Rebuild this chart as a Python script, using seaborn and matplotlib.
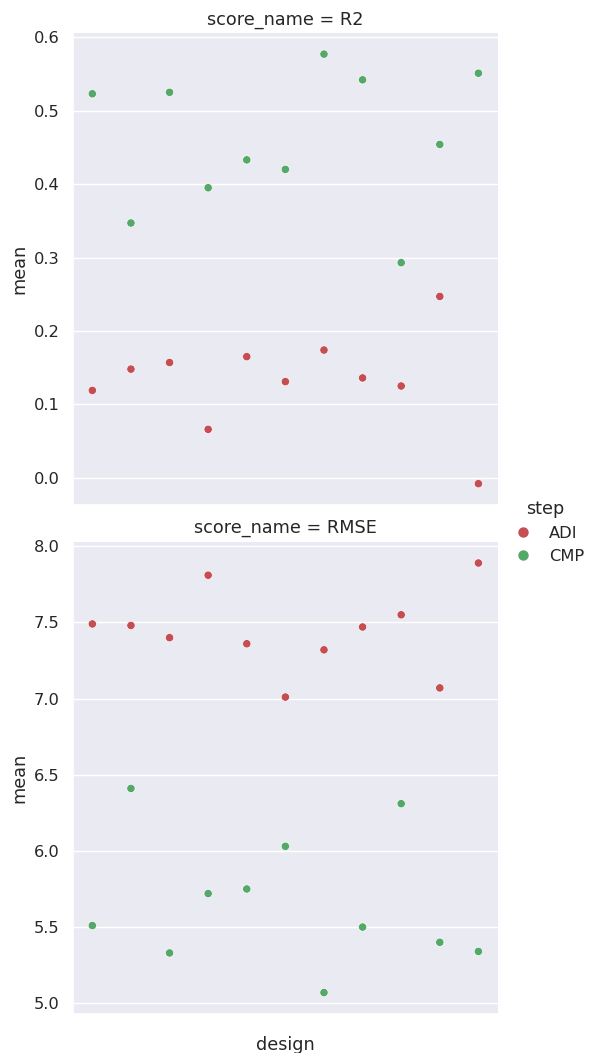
import numpy as np
import pandas as pd
import seaborn as sns
import matplotlib
matplotlib.use("Agg")
import matplotlib.pyplot as plt

designs = ["D01", "D02", "D03", "D04", "D05", "D06", "D07", "D08", "D09", "D10", "D11"]
r2_adi = [0.119, 0.148, 0.157, 0.066, 0.165, 0.131, 0.174, 0.136, 0.125, 0.247, -0.008]
r2_cmp = [0.523, 0.347, 0.525, 0.395, 0.433, 0.420, 0.577, 0.542, 0.293, 0.454, 0.551]
rmse_adi = [7.49, 7.48, 7.40, 7.81, 7.36, 7.01, 7.32, 7.47, 7.55, 7.07, 7.89]
rmse_cmp = [5.51, 6.41, 5.33, 5.72, 5.75, 6.03, 5.07, 5.50, 6.31, 5.40, 5.34]

rows = []
for score, step, vals in [("R2", "ADI", r2_adi), ("R2", "CMP", r2_cmp),
                          ("RMSE", "ADI", rmse_adi), ("RMSE", "CMP", rmse_cmp)]:
    for d, v in zip(designs, vals):
        rows.append({"design": d, "step": step, "score_name": score, "mean": v})
df = pd.DataFrame(rows)

sns.set_theme(style="darkgrid", color_codes=True, font_scale=1.06)
g = sns.relplot(data=df, x="design", y="mean", hue="step", row="score_name",
                palette={"ADI": "r", "CMP": "g"}, hue_order=["ADI", "CMP"],
                facet_kws={"sharey": False, "sharex": True},
                height=4.9, aspect=0.88)
g.set(xticks=[])
for ax in g.axes.flat:
    ax.xaxis.labelpad = 16
g.fig.set_size_inches(5.89, 10.53)
g.fig.subplots_adjust(left=0.124, right=0.845, top=0.969, bottom=0.037, hspace=0.077)
sns.move_legend(g, "center left", bbox_to_anchor=(0.836, 0.495), handletextpad=0.6)
for h in g.legend.legend_handles:
    h.set_markersize(7.5)
g.fig.savefig("out.png", dpi=100)
